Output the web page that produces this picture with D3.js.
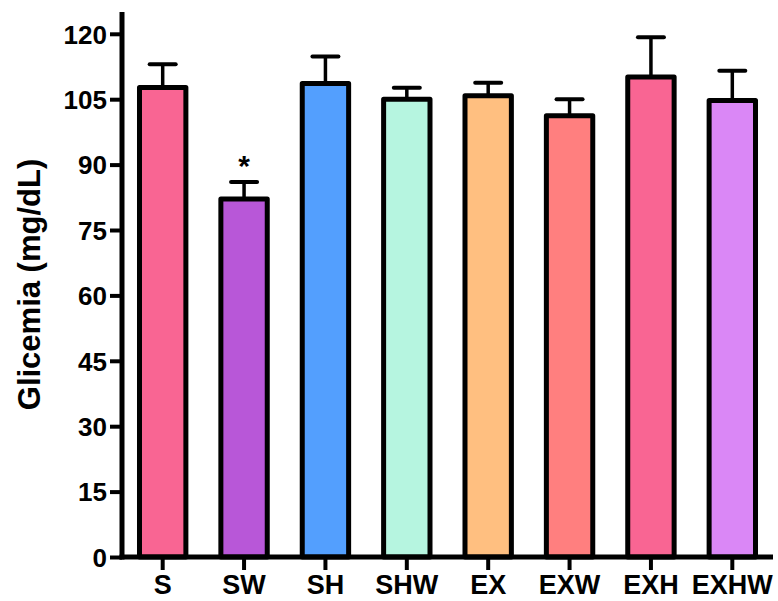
<!DOCTYPE html>
<html>
<head>
<meta charset="utf-8">
<script src="https://cdn.jsdelivr.net/npm/d3@7"></script>
<style>
  html, body { margin: 0; padding: 0; background: #fff; }
  svg text { font-family: "Liberation Sans", Arial, sans-serif; font-weight: bold; }
</style>
</head>
<body>
<svg id="chart" width="778" height="601"></svg>
<script>
const categories = ["S", "SW", "SH", "SHW", "EX", "EXW", "EXH", "EXHW"];
const means = [107.7, 82.1, 108.6, 105.0, 105.8, 101.2, 110.1, 104.7];
const errors = [5.3, 3.9, 6.2, 2.6, 3.0, 3.8, 9.1, 6.8];
const colors = ["#F96593", "#B857D8", "#539FFE", "#B6F5E0", "#FFBF80", "#FF7F7F", "#F96593", "#DA87F6"];
const yTicks = [0, 15, 30, 45, 60, 75, 90, 105, 120];
const significant = ["SW"];
const yLabel = "Glicemia (mg/dL)";

const svg = d3.select("#chart");
const x = d3.scaleBand().domain(categories).range([122, 773]).paddingInner(0.43).paddingOuter(0.215);
const y = d3.scaleLinear().domain([0, 125]).range([557, 12]);

const data = categories.map((c, i) => ({ c, m: means[i], e: errors[i], col: colors[i] }));

// error bars
const eb = svg.append("g");
data.forEach(d => {
  const cx = x(d.c) + x.bandwidth() / 2;
  eb.append("line").attr("x1", cx).attr("x2", cx).attr("y1", y(d.m)).attr("y2", y(d.m + d.e))
    .attr("stroke", "#000").attr("stroke-width", 3.5);
  eb.append("line").attr("x1", cx - 13).attr("x2", cx + 13).attr("y1", y(d.m + d.e)).attr("y2", y(d.m + d.e))
    .attr("stroke", "#000").attr("stroke-width", 4).attr("stroke-linecap", "round");
});

// bars
svg.append("g").selectAll("rect").data(data).join("rect")
  .attr("x", d => x(d.c))
  .attr("width", x.bandwidth())
  .attr("y", d => y(d.m))
  .attr("height", d => y(0) - y(d.m))
  .attr("fill", d => d.col)
  .attr("stroke", "#000")
  .attr("stroke-width", 5)
  .attr("stroke-linejoin", "round");

// significance
svg.append("g").selectAll("text").data(data.filter(d => significant.includes(d.c))).join("text")
  .attr("x", d => x(d.c) + x.bandwidth() / 2)
  .attr("y", d => y(d.m + d.e) - 6)
  .attr("text-anchor", "middle")
  .attr("font-size", 30)
  .attr("font-weight", "normal")
  .text("*");

// y axis
const yAxis = svg.append("g").attr("transform", "translate(122,0)")
  .call(d3.axisLeft(y).tickValues(yTicks).tickSize(12).tickSizeOuter(0).tickPadding(3));
yAxis.select(".domain").attr("stroke-width", 5).attr("d", `M0,${y(125)}V${y(0) + 2.5}`);
yAxis.selectAll(".tick line").attr("stroke-width", 4);
yAxis.selectAll(".tick text").attr("font-size", 26).attr("fill", "#000").attr("dy", "0.36em");

// x axis
const xAxis = svg.append("g").attr("transform", `translate(0,${y(0)})`)
  .call(d3.axisBottom(x).tickSize(13).tickSizeOuter(0).tickPadding(5));
xAxis.select(".domain").attr("stroke-width", 5).attr("d", "M119.5,0H773");
xAxis.selectAll(".tick line").attr("stroke-width", 4);
xAxis.selectAll(".tick text").attr("font-size", 27).attr("fill", "#000");

// y label
svg.append("text")
  .attr("transform", `translate(40,${(y(0) + y(125)) / 2 + 0}) rotate(-90)`)
  .attr("text-anchor", "middle")
  .attr("font-size", 31)
  .text(yLabel);
</script>
</body>
</html>
